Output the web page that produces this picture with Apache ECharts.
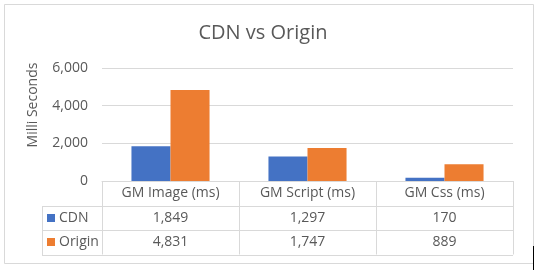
<!DOCTYPE html>
<html>
<head>
<meta charset="utf-8">
<script src="https://cdn.jsdelivr.net/npm/echarts@6/dist/echarts.min.js"></script>
<style>
html,body{margin:0;padding:0;background:#fff;}
#c{width:537px;height:270px;}
</style>
</head>
<body>
<div id="c"></div>
<script>
const categories = ['GM Image (ms)', 'GM Script (ms)', 'GM Css (ms)'];
const seriesNames = ['CDN', 'Origin'];
const cdnValues = [1849, 1297, 170];
const originValues = [4831, 1747, 889];
const yTickMin = 0, yTickMax = 6000, yTickStep = 2000;
const titleText = 'CDN vs Origin';
const yAxisTitle = 'Milli Seconds';

const FONT = 'Open Sans';
const TXT = '#595959';
const LINE = '#D9D9D9';
const COLORS = ['#4472C4', '#ED7D31'];
const GRID = {left: 102, right: 24, top: 68, bottom: 89};
const TABLE_LEFT = 42;
const ROW_H = 24.5;

const fmt = v => v.toLocaleString('en-US');

const chart = echarts.init(document.getElementById('c'), null, {renderer: 'canvas'});
const option = {
  animation: false,
  backgroundColor: '#fff',
  textStyle: {fontFamily: FONT, color: TXT},
  grid: {left: GRID.left, right: GRID.right, top: GRID.top, bottom: GRID.bottom, containLabel: false},
  xAxis: {
    type: 'category',
    data: categories,
    axisLine: {show: true, lineStyle: {color: LINE, width: 1}},
    axisTick: {show: true, length: ROW_H * 3, lineStyle: {color: LINE}},
    axisLabel: {color: TXT, fontFamily: FONT, fontSize: 14, margin: 5, interval: 0}
  },
  yAxis: {
    type: 'value',
    min: yTickMin, max: yTickMax, interval: yTickStep,
    axisLine: {show: false},
    axisTick: {show: false},
    splitLine: {lineStyle: {color: LINE, width: 1}},
    axisLabel: {color: TXT, fontFamily: FONT, fontSize: 14, margin: 14, formatter: v => fmt(v)}
  },
  series: [
    {name: seriesNames[0], type: 'bar', data: cdnValues, itemStyle: {color: COLORS[0]}, barGap: '0%', barCategoryGap: '43%'},
    {name: seriesNames[1], type: 'bar', data: originValues, itemStyle: {color: COLORS[1]}, barGap: '0%', barCategoryGap: '43%'}
  ]
};
chart.setOption(option);

// Build title, axis title and data table from the data
const axisY = chart.convertToPixel({yAxisIndex: 0}, 0);
const rightX = 537 - GRID.right;
const g = [];
// outer border
g.push({type: 'rect', shape: {x: 4.5, y: 4.5, width: 529, height: 259}, style: {fill: null, stroke: LINE, lineWidth: 1}, silent: true});
g.push({type: 'line', shape: {x1: 533.5, y1: 246, x2: 533.5, y2: 270}, style: {stroke: '#000', lineWidth: 1}});
g.push({type: 'text', x: 263, y: 33, style: {text: titleText, font: '20px "' + FONT + '"', fill: TXT, align: 'center', verticalAlign: 'middle'}});
g.push({type: 'text', x: 33, y: 105, rotation: Math.PI / 2, style: {text: yAxisTitle, font: '14px "' + FONT + '"', fill: TXT, align: 'center', verticalAlign: 'middle'}});
// table horizontal lines
for (let r = 1; r <= 3; r++) {
  const y = Math.round(axisY + ROW_H * r) + 0.5;
  g.push({type: 'line', shape: {x1: TABLE_LEFT, y1: y, x2: rightX, y2: y}, style: {stroke: LINE, lineWidth: 1}});
}
g.push({type: 'line', shape: {x1: TABLE_LEFT + 0.5, y1: Math.round(axisY + ROW_H), x2: TABLE_LEFT + 0.5, y2: Math.round(axisY + ROW_H * 3) + 1}, style: {stroke: LINE, lineWidth: 1}});
const rows = [cdnValues, originValues];
rows.forEach((vals, ri) => {
  const cy = axisY + ROW_H * (ri + 1.5);
  g.push({type: 'rect', shape: {x: TABLE_LEFT + 5, y: Math.round(cy) - 4, width: 8, height: 8}, style: {fill: COLORS[ri]}});
  g.push({type: 'text', x: TABLE_LEFT + 17, y: cy, style: {text: seriesNames[ri], font: '14px "' + FONT + '"', fill: TXT, align: 'left', verticalAlign: 'middle'}});
  vals.forEach((v, ci) => {
    const cx = chart.convertToPixel({xAxisIndex: 0}, ci);
    g.push({type: 'text', x: cx, y: cy, style: {text: fmt(v), font: '14px "' + FONT + '"', fill: TXT, align: 'center', verticalAlign: 'middle'}});
  });
});
chart.setOption({graphic: g});
</script>
</body>
</html>
